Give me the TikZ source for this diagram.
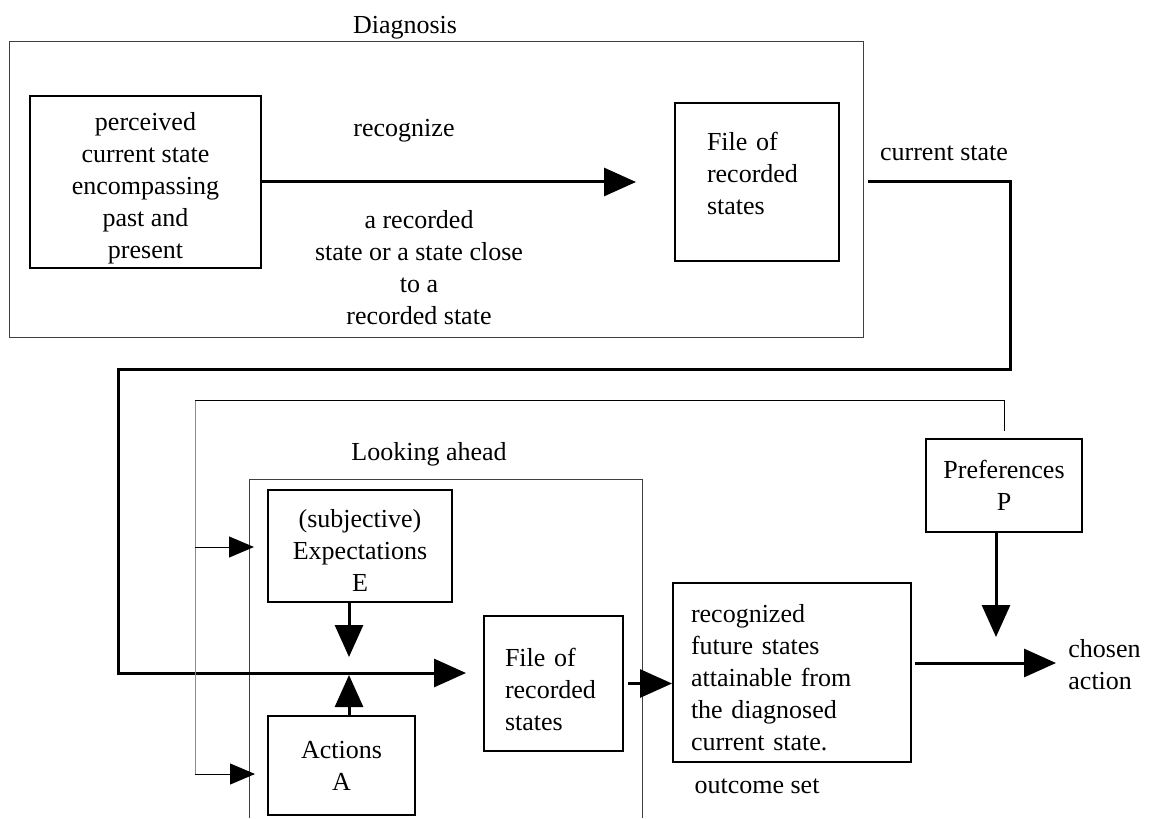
\documentclass[tikz,border=0pt]{standalone}
\usepackage{fontspec}
\setmainfont{Liberation Serif}
\usetikzlibrary{arrows.meta}
\tikzset{
    block/.style={rectangle,draw,line width=1pt,inner sep=0pt,align=center,font=\fontsize{13}{16}\selectfont},
    note/.style={inner sep=0pt,align=center,font=\fontsize{13}{16}\selectfont},
    frame/.style={draw=black!75,line width=0.5pt},
    directed/.style={arrows={-Triangle[length=16pt,width=14pt]},line width=1.5pt,line join=miter},
    feed/.style={arrows={-Triangle[length=12.5pt,width=10.5pt]},line width=0.5pt},
    }

\begin{document}
\begin{tikzpicture}[x=0.5pt,y=-0.5pt]
    \useasboundingbox (0,0) rectangle (1149,818);

    % diagnosis part
    \draw[frame] (9,42) rectangle (863,337);
    \node[note] (diag) at (405,28) {Diagnosis};
    \node[block,minimum width=115.5pt,minimum height=86pt] (perc) at (145.5,182) {\rule{0pt}{15pt}perceived\\current state\\encompassing\\past and\\present};
    \node[block,align=left,text width=50pt,inner xsep=16pt,minimum height=79pt] (file1) at (757,182) {File of\\recorded\\states\rule[-9pt]{0pt}{9pt}};
    \node[note] (recog) at (404,131) {recognize};
    \node[note] (close) at (419,267.5) {a recorded\\state or a state close\\to a\\recorded state};
    \node[note] (cslabel) at (944,153) {current state};

    % looking ahead part
    \draw[frame] (249,818) -- (249,479) -- (642,479) -- (642,818);
    \node[note] (look) at (429,454) {Looking ahead};
    \node[block,minimum width=92pt,minimum height=56pt] (expc) at (360,546) {\rule{0pt}{13pt}(subjective)\\Expectations\\E};
    \node[block,minimum width=73.5pt,minimum height=49.5pt] (act) at (341.5,765.5) {Actions\\A};
    \node[block,align=left,text width=48.5pt,inner xsep=10.5pt,minimum height=67.5pt] (file2) at (553.5,683.5) {\rule{0pt}{15pt}File of\\recorded\\states};

    \node[block,align=left,text width=101pt,inner xsep=9pt,minimum height=89.5pt] (outc) at (792,672.5) {\rule{0pt}{14pt}recognized\\future states\\attainable from\\the diagnosed\\current state.};
    \node[note] (oset) at (757,786) {outcome set};
    \node[block,minimum width=78pt,minimum height=46.5pt] (pref) at (1004,485.5) {Preferences\\P};
    \node[note,align=left,anchor=west] (chosen) at (1068,665) {chosen\\action};

    \coordinate (bend) at (1010,369);
    \coordinate (drop) at (118,673);
    \coordinate (entry) at (466,673);
    \coordinate (meet) at (349,673);
    \coordinate (ptip) at (996,637);
    \coordinate (pick) at (1056,663);
    \coordinate (loopTop) at (195,400);
    \coordinate (loopE) at (195,547);
    \coordinate (loopA) at (195,774);
    \coordinate (inE) at (254,547);
    \coordinate (inA) at (255,774);

    \draw[directed,shorten >=19pt] (perc.east) -- (perc.east -| file1.west);
    \draw[directed,shorten <=14pt] (file1.east) -| (bend) -| (drop) -- (entry);
    \draw[directed,shorten >=8pt] (expc.south -| meet) -- (meet);
    \draw[directed,shorten >=1pt] (act.north -| meet) -- (meet);
    \draw[directed,shorten <=2pt] (file2.east) -- (file2.east -| outc.west);
    \draw[directed] (pref.south -| ptip) -- (ptip);
    \draw[directed,shorten <=1.5pt] (outc.east |- pick) -- (pick);

    \draw[draw=black!45,line width=0.5pt] (loopA) -- (loopTop);
    \draw[line width=0.5pt,shorten >=3.5pt] (loopTop) -| (pref.north);
    \draw[feed] (loopE) -- (inE);
    \draw[feed] (loopA) -- (inA);
\end{tikzpicture}
\end{document}
